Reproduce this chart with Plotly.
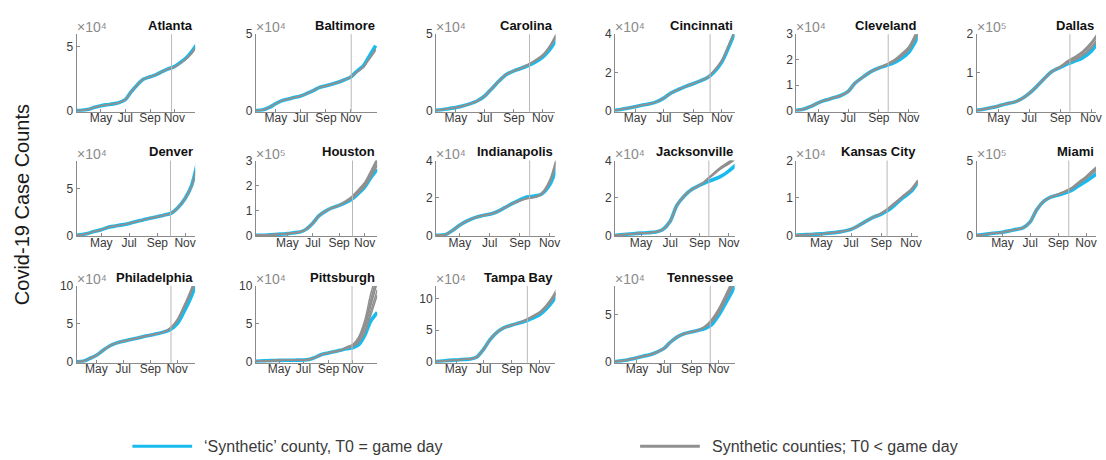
import plotly.graph_objects as go

W, H = 1106, 460

# Semi-monthly sampling dates shared by every city panel
GRID = ["2020-02-15", "2020-03-01", "2020-03-15", "2020-04-01", "2020-04-15",
        "2020-05-01", "2020-05-15", "2020-06-01", "2020-06-15", "2020-07-01",
        "2020-07-15", "2020-08-01", "2020-08-15", "2020-09-01", "2020-09-15",
        "2020-10-01", "2020-10-15", "2020-11-01", "2020-11-15", "2020-12-01",
        "2020-12-15", "2021-01-01"]

CITIES = ["Atlanta", "Baltimore", "Carolina", "Cincinnati", "Cleveland", "Dallas",
          "Denver", "Houston", "Indianapolis", "Jacksonville", "Kansas City", "Miami",
          "Philadelphia", "Pittsburgh", "Tampa Bay", "Tennessee"]

# Axis scaling: values are in units of 10^EXPONENT cases
EXPONENT = [4, 4, 4, 4, 4, 5, 4, 5, 4, 4, 4, 5, 4, 4, 4, 4]
SUPERSCRIPT = {4: "⁴", 5: "⁵"}
Y_MAX = [6, 5, 5, 4, 3, 2, 8, 3, 4, 4, 2, 5, 10, 10, 12, 8]
Y_TICKS = [[0, 5], [0, 5], [0, 5], [0, 2, 4], [0, 1, 2, 3], [0, 1, 2],
           [0, 5], [0, 1, 2, 3], [0, 2, 4], [0, 2, 4], [0, 1, 2], [0, 5],
           [0, 5, 10], [0, 5, 10], [0, 5, 10], [0, 5]]

X_START = ["2020-03-01", "2020-03-13", "2020-03-20", "2020-03-20", "2020-03-18", "2020-03-18",
           "2020-03-08", "2020-02-16", "2020-03-13", "2020-03-08", "2020-03-11", "2020-03-05",
           "2020-03-17", "2020-03-04", "2020-03-18", "2020-03-13"]
X_END = ["2020-12-23", "2021-01-05", "2020-11-28", "2020-11-28", "2020-11-19", "2020-11-11",
         "2020-11-23", "2020-12-01", "2020-11-13", "2020-11-13", "2020-11-15", "2020-11-23",
         "2020-12-12", "2021-01-01", "2020-12-06", "2020-12-07"]
GAME_DAY = ["2020-10-25", "2020-11-02", "2020-10-04", "2020-10-07", "2020-09-20", "2020-09-20",
            "2020-09-30", "2020-10-03", "2020-09-21", "2020-09-20", "2020-09-13", "2020-09-24",
            "2020-10-18", "2020-10-30", "2020-10-05", "2020-10-13"]

# 'Synthetic' county with T0 = game day, one list per city (aligned with GRID)
ATLANTA = [None, 0, 0.02, 0.1, 0.25, 0.38, 0.45, 0.52, 0.62, 0.85, 1.45, 2.05, 2.45, 2.65, 2.8, 3.05, 3.25, 3.45, 3.75, 4.15, 4.65, 5.4]
BALTIMORE = [None, 0, 0, 0.05, 0.2, 0.45, 0.63, 0.75, 0.85, 0.95, 1.1, 1.3, 1.5, 1.62, 1.72, 1.85, 2.0, 2.2, 2.55, 2.9, 3.5, 4.25]
CAROLINA = [None, None, 0, 0.05, 0.12, 0.2, 0.3, 0.45, 0.62, 0.95, 1.4, 1.95, 2.35, 2.6, 2.75, 2.95, 3.15, 3.5, 3.95, 4.7, None, None]
CINCINNATI = [None, None, 0, 0.05, 0.12, 0.2, 0.27, 0.35, 0.45, 0.65, 0.9, 1.1, 1.25, 1.4, 1.54, 1.72, 2.0, 2.55, 3.3, 4.25, None, None]
CLEVELAND = [None, None, 0, 0.05, 0.15, 0.3, 0.4, 0.5, 0.58, 0.75, 1.08, 1.33, 1.52, 1.67, 1.76, 1.87, 2.02, 2.3, 2.75, 3.4, None, None]
DALLAS = [None, None, 0, 0.03, 0.07, 0.12, 0.17, 0.22, 0.3, 0.45, 0.62, 0.85, 1.02, 1.13, 1.22, 1.3, 1.38, 1.55, 1.78, None, None, None]
DENVER = [None, 0, 0.05, 0.2, 0.42, 0.6, 0.85, 1.0, 1.12, 1.28, 1.45, 1.65, 1.82, 2.0, 2.15, 2.35, 2.9, 3.95, 5.3, 8.4, None, None]
HOUSTON = [0, 0, 0.01, 0.03, 0.05, 0.07, 0.1, 0.14, 0.25, 0.5, 0.78, 0.98, 1.1, 1.2, 1.3, 1.45, 1.65, 1.93, 2.3, 2.65, None, None]
INDIANAPOLIS = [None, 0, 0, 0.03, 0.25, 0.55, 0.76, 0.95, 1.05, 1.13, 1.25, 1.48, 1.68, 1.9, 2.05, 2.1, 2.2, 2.7, 3.6, None, None, None]
JACKSONVILLE = [None, 0, 0.02, 0.06, 0.09, 0.12, 0.14, 0.18, 0.3, 0.75, 1.6, 2.15, 2.45, 2.68, 2.85, 3.0, 3.15, 3.45, 3.75, None, None, None]
KANSAS_CITY = [None, 0, 0.01, 0.02, 0.03, 0.04, 0.06, 0.08, 0.11, 0.16, 0.25, 0.38, 0.48, 0.57, 0.67, 0.84, 1.0, 1.17, 1.42, None, None, None]
MIAMI = [None, 0, 0.03, 0.1, 0.16, 0.21, 0.3, 0.4, 0.5, 0.9, 1.7, 2.3, 2.55, 2.7, 2.82, 3.02, 3.3, 3.62, 3.92, 4.25, None, None]
PHILADELPHIA = [None, None, 0, 0.05, 0.4, 0.85, 1.45, 2.1, 2.45, 2.7, 2.9, 3.1, 3.3, 3.5, 3.68, 3.9, 4.2, 5.0, 6.4, 8.3, 10.4, None]
PITTSBURGH = [None, 0.05, 0.1, 0.12, 0.15, 0.17, 0.18, 0.19, 0.2, 0.22, 0.3, 0.6, 0.95, 1.15, 1.32, 1.5, 1.7, 1.85, 2.2, 3.5, 5.3, 6.5]
TAMPA_BAY = [None, None, 0, 0.1, 0.2, 0.27, 0.35, 0.42, 0.7, 2.0, 3.5, 4.75, 5.38, 5.8, 6.1, 6.45, 6.85, 7.45, 8.3, 9.7, 11.4, None]
TENNESSEE = [None, 0, 0.02, 0.12, 0.25, 0.42, 0.58, 0.75, 1.0, 1.4, 2.05, 2.65, 2.95, 3.15, 3.3, 3.5, 3.85, 4.9, 6.05, 7.4, 8.8, None]

# Synthetic counties with T0 < game day: they follow the game-day fit up to
# GRID[SPLIT[i]] and continue with their own values from there on
SPLIT = [16, 17, 14, 15, 13, 12, 15, 13, 12, 13, 12, 12, 15, 15, 14, 14]
GRAY_ATLANTA = [[3.25, 3.42, 3.68, 4.05, 4.5, 5.2], [3.25, 3.4, 3.7, 4.1, 4.58, 5.3]]
GRAY_BALTIMORE = [[2.2, 2.5, 2.8, 3.3, 3.95], [2.2, 2.52, 2.85, 3.35, 4.05]]
GRAY_CAROLINA = [[2.75, 3.0, 3.25, 3.62, 4.15, 5.0], [2.75, 2.98, 3.22, 3.58, 4.1, 4.9],
                 [2.75, 3.02, 3.28, 3.66, 4.2, 5.1]]
GRAY_CINCINNATI = [[1.72, 2.08, 2.65, 3.42, 4.35], [1.72, 2.05, 2.6, 3.38, 4.3]]
GRAY_CLEVELAND = [[1.67, 1.8, 1.96, 2.17, 2.48, 2.98, 3.7], [1.67, 1.79, 1.93, 2.12, 2.42, 2.9, 3.6],
                  [1.67, 1.81, 1.98, 2.2, 2.52, 3.05, 3.8], [1.67, 1.78, 1.91, 2.1, 2.38, 2.85, 3.5]]
GRAY_DALLAS = [[1.02, 1.15, 1.27, 1.38, 1.5, 1.72, 1.98], [1.02, 1.14, 1.25, 1.35, 1.46, 1.66, 1.9],
               [1.02, 1.16, 1.3, 1.42, 1.55, 1.78, 2.04], [1.02, 1.13, 1.24, 1.33, 1.43, 1.62, 1.85],
               [1.02, 1.15, 1.28, 1.4, 1.52, 1.75, 2.0]]
GRAY_DENVER = [[2.35, 2.92, 3.98, 5.25, 8.3], [2.35, 2.88, 3.9, 5.2, 8.2]]
GRAY_HOUSTON = [[1.2, 1.33, 1.5, 1.72, 2.02, 2.42, 2.95], [1.2, 1.35, 1.53, 1.77, 2.08, 2.5, 3.05],
                [1.2, 1.32, 1.48, 1.69, 1.98, 2.36, 2.85], [1.2, 1.36, 1.56, 1.8, 2.12, 2.56, 3.1],
                [1.2, 1.31, 1.47, 1.67, 1.96, 2.33, 2.8]]
GRAY_INDIANAPOLIS = [[1.68, 1.85, 1.97, 2.03, 2.2, 2.85, 4.0], [1.68, 1.86, 1.98, 2.05, 2.24, 2.95, 4.15],
                     [1.68, 1.84, 1.96, 2.02, 2.18, 2.8, 3.9]]
GRAY_JACKSONVILLE = [[2.68, 2.95, 3.3, 3.6, 3.88, 4.15], [2.68, 2.98, 3.35, 3.65, 3.95, 4.25],
                     [2.68, 2.93, 3.27, 3.55, 3.82, 4.08], [2.68, 2.97, 3.32, 3.63, 3.92, 4.2]]
GRAY_KANSAS_CITY = [[0.48, 0.59, 0.71, 0.88, 1.04, 1.21, 1.45], [0.48, 0.6, 0.73, 0.9, 1.06, 1.24, 1.48],
                    [0.48, 0.58, 0.7, 0.86, 1.02, 1.19, 1.43]]
GRAY_MIAMI = [[2.55, 2.75, 2.92, 3.15, 3.48, 3.85, 4.22, 4.6], [2.55, 2.77, 2.95, 3.2, 3.55, 3.95, 4.35, 4.75],
              [2.55, 2.73, 2.88, 3.1, 3.42, 3.78, 4.12, 4.48], [2.55, 2.76, 2.94, 3.18, 3.52, 3.9, 4.28, 4.68]]
GRAY_PHILADELPHIA = [[3.9, 4.35, 5.4, 7.0, 9.0, 11.2], [3.9, 4.3, 5.3, 6.85, 8.8, 11.0],
                     [3.9, 4.4, 5.55, 7.2, 9.3, 11.5]]
GRAY_PITTSBURGH = [[1.5, 1.8, 2.1, 2.8, 4.5, 7.2, 10.5], [1.5, 1.85, 2.2, 3.0, 5.0, 8.0, 11.5],
                   [1.5, 1.78, 2.05, 2.6, 4.0, 6.5, 9.5], [1.5, 1.9, 2.3, 3.2, 5.5, 8.8, 12.0],
                   [1.5, 1.82, 2.15, 2.9, 4.7, 7.6, 10.8], [1.5, 1.76, 2.0, 2.5, 3.8, 6.0, 8.8]]
GRAY_TAMPA_BAY = [[6.1, 6.6, 7.1, 7.75, 8.7, 10.2, 12.0], [6.1, 6.55, 7.0, 7.65, 8.55, 10.0, 11.8],
                  [6.1, 6.65, 7.2, 7.9, 8.9, 10.5, 12.4]]
GRAY_TENNESSEE = [[3.3, 3.7, 4.3, 5.4, 6.7, 8.2, 9.7], [3.3, 3.65, 4.2, 5.25, 6.5, 8.0, 9.5],
                  [3.3, 3.75, 4.4, 5.6, 6.9, 8.5, 10.0], [3.3, 3.62, 4.1, 5.1, 6.3, 7.8, 9.3]]

GAME_DAY_FIT = [ATLANTA, BALTIMORE, CAROLINA, CINCINNATI, CLEVELAND, DALLAS,
                DENVER, HOUSTON, INDIANAPOLIS, JACKSONVILLE, KANSAS_CITY, MIAMI,
                PHILADELPHIA, PITTSBURGH, TAMPA_BAY, TENNESSEE]
EARLY_FITS = [GRAY_ATLANTA, GRAY_BALTIMORE, GRAY_CAROLINA, GRAY_CINCINNATI, GRAY_CLEVELAND,
              GRAY_DALLAS, GRAY_DENVER, GRAY_HOUSTON, GRAY_INDIANAPOLIS, GRAY_JACKSONVILLE,
              GRAY_KANSAS_CITY, GRAY_MIAMI, GRAY_PHILADELPHIA, GRAY_PITTSBURGH,
              GRAY_TAMPA_BAY, GRAY_TENNESSEE]

TICK_DATES = ["2020-05-01", "2020-07-01", "2020-09-01", "2020-11-01"]
TICK_TEXT = ["May", "Jul", "Sep", "Nov"]

BLUE = "#17bbee"
GRAY = "#909090"
AXIS = "#8a8a8a"
LABEL = "#3a3a3a"
FONT = "Liberation Sans, Arial, Helvetica, sans-serif"

# Panel placement in pixels
COL_LEFT = [77, 257, 438, 618, 800, 981]
COL_WIDTH = [119, 122, 120, 120, 122, 120]
ROW_TOP = [28, 158, 287]
ROW_ZERO = [106.5, 235, 365]

fig = go.Figure()
layout = dict(
    width=W, height=H, margin=dict(l=0, r=0, t=0, b=0),
    paper_bgcolor="white", plot_bgcolor="white", showlegend=False,
    font=dict(family=FONT, color=LABEL, size=11),
)
annotations = []
shapes = []

for i, city in enumerate(CITIES):
    r, c = divmod(i, 6)
    n = i + 1
    key = "" if n == 1 else str(n)
    xa, ya = f"x{key}", f"y{key}"
    ymax = Y_MAX[i]
    pad = 0.015 * ymax
    top, zero = ROW_TOP[r], ROW_ZERO[r]
    bottom = zero + pad / ymax * (zero - top)
    x0 = COL_LEFT[c] / W
    x1 = (COL_LEFT[c] + COL_WIDTH[c]) / W

    blue = GAME_DAY_FIT[i]
    fig.add_trace(go.Scatter(
        x=GRID, y=blue, mode="lines", xaxis=xa, yaxis=ya,
        line=dict(color=BLUE, width=3.6, shape="spline", smoothing=0.8),
        hoverinfo="skip"))
    k = SPLIT[i]
    for tail in EARLY_FITS[i]:
        ys = blue[:k] + tail
        fig.add_trace(go.Scatter(
            x=GRID[:len(ys)], y=ys, mode="lines", xaxis=xa, yaxis=ya,
            line=dict(color=GRAY, width=1.5, shape="spline", smoothing=0.8),
            hoverinfo="skip"))

    layout[f"xaxis{key}"] = dict(
        domain=[x0, x1], anchor=ya, type="date",
        range=[X_START[i], X_END[i]],
        tickmode="array", tickvals=TICK_DATES, ticktext=TICK_TEXT,
        ticks="inside", ticklen=3, tickcolor=AXIS, ticklabelstandoff=-5,
        showline=True, linecolor=AXIS, linewidth=1,
        showgrid=False, zeroline=False,
        tickfont=dict(size=12, color=LABEL, family=FONT),
    )
    layout[f"yaxis{key}"] = dict(
        domain=[1 - bottom / H, 1 - top / H], anchor=xa,
        range=[-pad, ymax], tickmode="array", tickvals=Y_TICKS[i],
        ticks="inside", ticklen=3, tickcolor=AXIS,
        showline=True, linecolor=AXIS, linewidth=1,
        showgrid=False, zeroline=False,
        tickfont=dict(size=12, color=LABEL, family=FONT),
    )
    # game day marker
    shapes.append(dict(type="line", xref=xa, yref=f"{ya} domain",
                       x0=GAME_DAY[i], x1=GAME_DAY[i], y0=0, y1=1,
                       line=dict(color="#b8b8b8", width=1)))
    # city name
    annotations.append(dict(
        text=city, xref="paper", yref="paper",
        x=x1, y=1 - (top - 9) / H, xanchor="right", yanchor="middle",
        showarrow=False,
        font=dict(size=13, color="#111111", family=FONT, weight="bold")))
    # scale factor
    annotations.append(dict(
        text="×10" + SUPERSCRIPT[EXPONENT[i]], xref="paper", yref="paper",
        x=x0 - 2 / W, y=1 - (top - 7) / H, xanchor="left", yanchor="middle",
        showarrow=False, font=dict(size=14, color="#8a8a8a", family=FONT)))

annotations.append(dict(
    text="Covid-19 Case Counts", xref="paper", yref="paper",
    x=22 / W, y=1 - 203 / H, textangle=-90, showarrow=False,
    xanchor="center", yanchor="middle",
    font=dict(size=20, color="#1a1a1a", family=FONT)))

# legend drawn as sample lines with captions
legend_items = [(133, BLUE, "‘Synthetic’ county, T0 = game day"),
                (643, GRAY, "Synthetic counties; T0 &lt; game day")]
for lx, color, label in legend_items:
    shapes.append(dict(type="line", xref="paper", yref="paper",
                       x0=lx / W, x1=(lx + 60) / W, y0=1 - 452 / H, y1=1 - 452 / H,
                       line=dict(color=color, width=3)))
    annotations.append(dict(
        text=label, xref="paper", yref="paper",
        x=(lx + 70) / W, y=1 - 452 / H, xanchor="left", yanchor="middle",
        showarrow=False, font=dict(size=16, color="#3a3a3a", family=FONT)))

layout["annotations"] = annotations
layout["shapes"] = shapes
fig.update_layout(**layout)

fig.write_html("out.html")
